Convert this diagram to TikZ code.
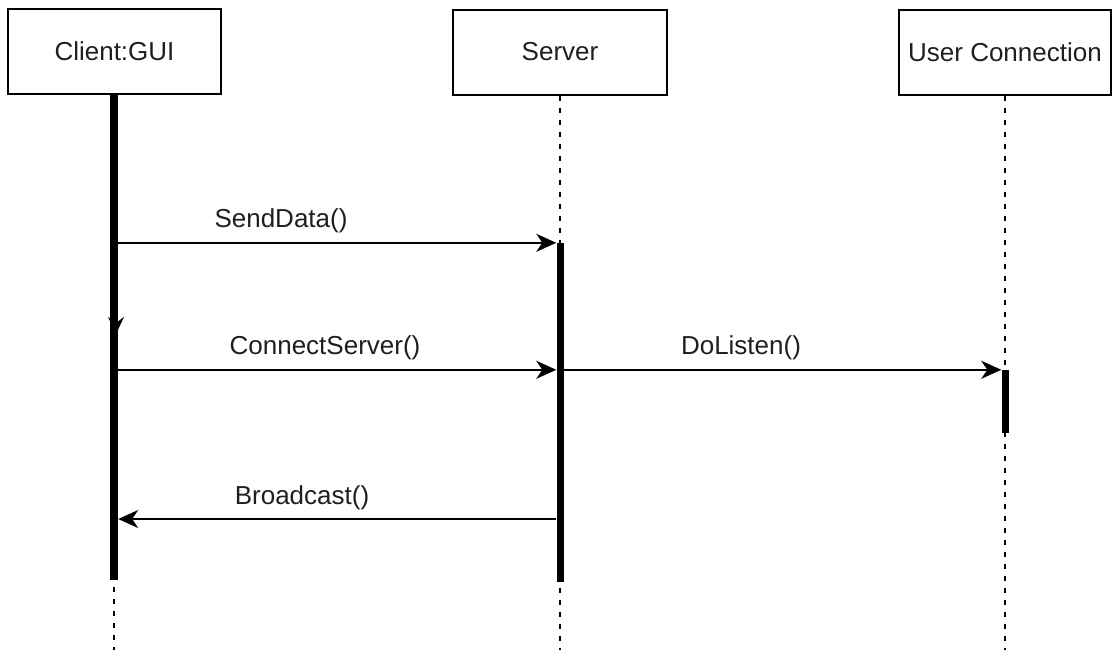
\documentclass[tikz,border=0pt]{standalone}
\usepackage{fontspec}
\setmainfont{Liberation Sans}
\usetikzlibrary{arrows.meta}
\begin{document}
\begin{tikzpicture}[x=1pt,y=-1pt,
  lifebox/.style={draw, line width=2pt, minimum height=85pt, inner sep=0pt,
    font=\fontsize{26}{30}\selectfont, text=black!88},
  actbar/.style={fill=black, draw=none, minimum width=8pt, inner sep=0pt},
  lifeline/.style={dash pattern=on 5pt off 7pt, line width=1.2pt},
  msg/.style={line width=1.6pt, -{Stealth[length=20pt,width=18pt,inset=6pt]}},
  msglabel/.style={font=\fontsize{26}{30}\selectfont, anchor=base, text=black!88}]
\useasboundingbox (0,0) rectangle (1112,653);

% participant boxes
\node[lifebox, minimum width=213pt] (client) at (114.5,51.5) {Client:GUI};
\node[lifebox, minimum width=214pt] (server) at (560,52) {Server};
\node[lifebox, minimum width=212pt] (uconn) at (1005,52) {User Connection};

% lifelines
\coordinate (cend) at (114,650);
\coordinate (send) at (560,650);
\coordinate (uend) at (1005,650);
\draw[lifeline] (client.south -| cend) -- (cend);
\draw[lifeline] (server.south) -- (send);
\draw[lifeline] (uconn.south) -- (uend);

% activation bars
\node[actbar, minimum height=486pt] (cbar) at (114,337) {};
\node[actbar, minimum width=7pt, minimum height=339pt] (sbar) at (560,412.5) {};
\node[actbar, minimum width=7pt, minimum height=63pt] (ubar) at (1005,401.5) {};

% stray arrow tip on the client bar
\coordinate (ctail) at (116,314);
\coordinate (ctip) at (116,334);
\draw[line width=1pt, -{Stealth[length=17pt,width=16pt,inset=6pt]}] (ctail) -- (ctip);

% messages
\draw[msg] (cbar.east |- sbar.north) -- (sbar.north west);
\node[msglabel] (l1) at (281,227) {SendData()};

\draw[msg] (cbar.east |- ubar.north) -- (sbar.west |- ubar.north);
\node[msglabel] (l2) at (325,354) {ConnectServer()};

\draw[msg] (sbar.east |- ubar.north) -- (ubar.north west);
\node[msglabel] (l3) at (741,354) {DoListen()};

\coordinate (bc) at (0,519);
\draw[msg] (sbar.west |- bc) -- (cbar.east |- bc);
\node[msglabel] (l4) at (302,504) {Broadcast()};
\end{tikzpicture}
\end{document}
